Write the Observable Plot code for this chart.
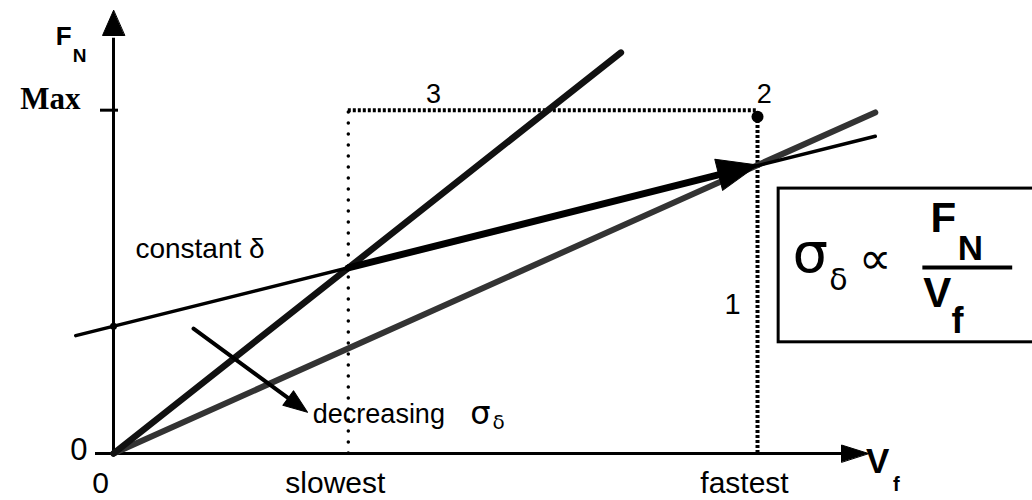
<!DOCTYPE html>
<html><head><meta charset="utf-8">
<script src="https://cdn.jsdelivr.net/npm/d3@7"></script>
<script src="https://cdn.jsdelivr.net/npm/@observablehq/plot@0.6"></script>
<style>html,body{margin:0;padding:0;background:#fff;overflow:hidden}</style>
</head><body><div id="chart"></div>
<script>
// ---- values (abstract units, x: feed rate V_f, y: normal force F_N) ----
const vfTicks = [0, 31.1, 85.3];
const vfLabels = ["0", "slowest", "fastest"];
const fnZero = [0];
const fnZeroLabel = ["0"];
const fnMax = [77.5];
const fnMaxLabel = ["Max"];
const slowest = 31.1, fastest = 85.3, maxF = 77.5;
const steepX = [0, 67.2], steepY = [0, 90.5];
const shallowX = [0, 100.9], shallowY = [0, 77.0];
const constX = [-5.0, 100.9], constY = [26.6, 71.6];
const intercept = [28.7];
const moveX = [31.1, 85.3], moveY = [41.9, 65.1];
const decX = [10.6, 25.7], decY = [28.2, 9.3];
const point2X = [85.3], point2Y = [76.0];
const markers = ["1", "2", "3"];

// ---- layout ----
const W = 1032, H = 500, mL = 113, mR = 164, mT = 10, mB = 47;
const kx = (W - mL - mR) / 100, ky = (H - mT - mB) / 100;
const ang = (x0, y0, x1, y1) => Math.atan2((x1 - x0) * kx, (y1 - y0) * ky) * 180 / Math.PI;
const pts = (xs, ys) => xs.map((x, i) => ({x, y: ys[i]}));
const tri = (w) => ({draw(ctx, l) { ctx.moveTo(0, -l); ctx.lineTo(-w / 2, 0); ctx.lineTo(w / 2, 0); ctx.closePath(); }});
const head = (x, y, rotate, length, width) =>
  Plot.vector([{x, y}], {x: "x", y: "y", rotate, length, anchor: "end", shape: tri(width), fill: "black", stroke: "black", strokeWidth: 1});
const sans = "Liberation Sans, Arial, Helvetica, sans-serif";
const serif = "Liberation Serif, Times New Roman, serif";
const dsans = "DejaVu Sans, sans-serif";
const T = (txt, x, y, o = {}) => Plot.text([{x, y}], {x: "x", y: "y", text: () => txt, fill: "black", fontFamily: sans, lineAnchor: "bottom", ...o});

// shorten arrow shafts so they end under the heads
const shaftEnd = (xs, ys, px) => {
  const dx = (xs[1] - xs[0]) * kx, dy = (ys[1] - ys[0]) * ky, L = Math.hypot(dx, dy);
  const f = (L - px) / L;
  return [[xs[0], xs[0] + (xs[1] - xs[0]) * f], [ys[0], ys[0] + (ys[1] - ys[0]) * f]];
};
const [mvX, mvY] = shaftEnd(moveX, moveY, 20);
const [dcX, dcY] = shaftEnd(decX, decY, 12);

const chart = Plot.plot({
  width: W, height: H,
  marginLeft: mL, marginRight: mR, marginTop: mT, marginBottom: mB,
  x: {domain: [0, 100]},
  y: {domain: [0, 100]},
  style: {fontFamily: sans, background: "white", color: "black"},
  marks: [
    // axes lines with arrowheads
    Plot.ruleX([0], {y1: 0, y2: 96, insetBottom: -10, strokeWidth: 3}),
    Plot.ruleY([0], {x1: 0, x2: 97, insetLeft: -18, strokeWidth: 3}),
    head(0, 100, 0, 25, 22),
    head(100, 0, 90, 27, 17),
    Plot.ruleY(fnMax, {x1: 0, x2: 0, insetLeft: -13, insetRight: -5, strokeWidth: 3}),
    // tick labels
    Plot.axisX({ticks: vfTicks, tickFormat: d => vfLabels[vfTicks.indexOf(d)], tickSize: 0, tickPadding: 18, fontSize: 30, dx: -13, label: null, fontFamily: sans}),
    Plot.axisY({ticks: fnZero, tickFormat: () => fnZeroLabel[0], tickSize: 0, tickPadding: 26, fontSize: 31, dy: -3, label: null, fontFamily: sans}),
    Plot.axisY({ticks: fnMax, tickFormat: () => fnMaxLabel[0], tickSize: 0, tickPadding: 33, fontSize: 31, dy: -11, label: null, fontFamily: serif, fontWeight: "bold"}),
    // dotted guide lines
    Plot.ruleX([slowest], {y1: 0, y2: maxF, strokeWidth: 3.5, strokeDasharray: "0 11", strokeLinecap: "round"}),
    Plot.ruleY([maxF], {x1: slowest, x2: fastest, strokeWidth: 4, strokeDasharray: "3 2"}),
    Plot.ruleX([fastest], {y1: 0, y2: point2Y[0], strokeWidth: 4, strokeDasharray: "3 2"}),
    // lines
    Plot.line(pts(shallowX, shallowY), {x: "x", y: "y", stroke: "#333", strokeWidth: 6}),
    Plot.line(pts(steepX, steepY), {x: "x", y: "y", stroke: "#111", strokeWidth: 6.5}),
    Plot.line(pts(constX, constY), {x: "x", y: "y", stroke: "black", strokeWidth: 3.5}),
    Plot.dot(intercept, {x: () => 0, y: d => d, r: 3.5, fill: "black"}),
    // big arrow
    Plot.line(pts(mvX, mvY), {x: "x", y: "y", stroke: "black", strokeWidth: 7}),
    head(moveX[1], moveY[1], ang(moveX[0], moveY[0], moveX[1], moveY[1]), 40, 32),
    // decreasing arrow
    Plot.line(pts(dcX, dcY), {x: "x", y: "y", stroke: "black", strokeWidth: 4}),
    head(decX[1], decY[1], ang(decX[0], decY[0], decX[1], decY[1]), 24, 18),
    // point 2
    Plot.dot(pts(point2X, point2Y), {x: "x", y: "y", r: 6, fill: "black"}),
    // numbers
    T(markers[2], 42.4, 79.2, {fontSize: 27}),
    T(markers[1], 86.2, 79.2, {fontSize: 27}),
    T(markers[0], 82.0, 31.6, {fontSize: 29}),
    // annotations
    T("constant δ", 2.9, 44.2, {fontSize: 28, textAnchor: "start"}),
    T("decreasing", 26.4, 6.8, {fontSize: 27, textAnchor: "start"}),
    T("σ", 48.6, 6.6, {fontSize: 32, fontFamily: dsans}),
    T("δ", 51.0, 5.6, {fontSize: 20, fontFamily: dsans}),
    // axis titles
    T("F", -6.6, 92.3, {fontSize: 26, fontWeight: "bold"}),
    T("N", -4.5, 88.3, {fontSize: 19, fontWeight: "bold"}),
    T("V", 101.2, -4.5, {fontSize: 35, fontWeight: "bold"}),
    T("f", 103.7, -8.4, {fontSize: 20, fontWeight: "bold"}),
    // formula box
    Plot.rect([{}], {x1: 88.1, x2: 122.5, y1: 25.1, y2: 59.8, stroke: "black", fill: "none", strokeWidth: 3}),
    T("σ", 92.3, 40.9, {fontSize: 56, fontFamily: dsans}),
    T("δ", 96.0, 37.0, {fontSize: 30, fontFamily: dsans}),
    T("∝", 100.9, 43.8, {fontSize: 46, fontFamily: dsans, lineAnchor: "middle"}),
    T("F", 109.9, 49.9, {fontSize: 42, fontWeight: "bold"}),
    T("N", 113.5, 43.6, {fontSize: 35, fontWeight: "bold"}),
    Plot.ruleY([42.0], {x1: 107.2, x2: 119.1, strokeWidth: 4}),
    T("V", 109.1, 33.0, {fontSize: 42, fontWeight: "bold"}),
    T("f", 111.8, 27.3, {fontSize: 36, fontWeight: "bold"})
  ]
});
document.getElementById("chart").appendChild(chart);
</script>
</body></html>
